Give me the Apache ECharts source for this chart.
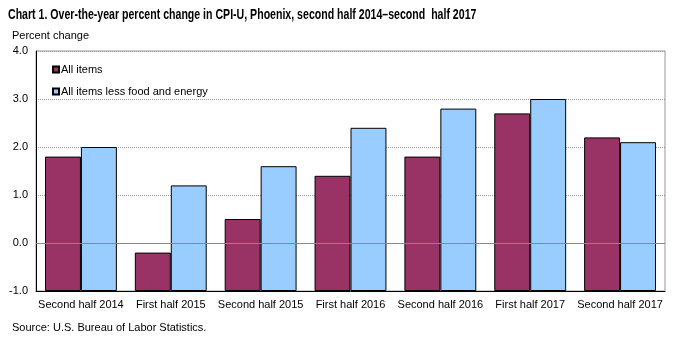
<!DOCTYPE html>
<html><head><meta charset="utf-8">
<script src="https://cdn.jsdelivr.net/npm/echarts@6/dist/echarts.min.js"></script>
<style>html,body{margin:0;padding:0;background:#fff}#c{width:677px;height:337px}</style>
</head><body><div id="c"></div>
<script>
const categories = ["Second half 2014","First half 2015","Second half 2015","First half 2016","Second half 2016","First half 2017","Second half 2017"];
const allItems = [1.8, -0.2, 0.5, 1.4, 1.8, 2.7, 2.2];
const lessFoodEnergy = [2.0, 1.2, 1.6, 2.4, 2.8, 3.0, 2.1];
const seriesNames = ["All items", "All items less food and energy"];
const yMin = -1, yMax = 4;
const FONT = "Arial, 'Liberation Sans', sans-serif";

// Bars in the reference rise from the axis floor (yMin); stack them on an invisible base at yMin.
const baseVals = categories.map(() => yMin);
const lift = arr => arr.map(v => +(v - yMin).toFixed(4));

const chart = echarts.init(document.getElementById('c'));
chart.setOption({
  animation: false,
  textStyle: {fontFamily: FONT},
  graphic: [
    {type: 'text', left: 8, top: 7, scaleX: 0.705, originX: 0,
     style: {text: "Chart 1. Over-the-year percent change in CPI-U, Phoenix, second half 2014\u2013second  half 2017",
             font: "bold 15px Arial, 'Liberation Sans', sans-serif", fill: '#000'}}
  ],
  title: [
    {text: "Source: U.S. Bureau of Labor Statistics.", left: 12, top: 322, padding: 0,
     textStyle: {fontFamily: FONT, fontWeight: 'normal', fontSize: 11, color: '#000'}}
  ],
  legend: {
    orient: 'vertical', left: 52, top: 64, padding: 0, itemGap: 11, itemWidth: 6, itemHeight: 6,
    icon: 'rect', textStyle: {fontSize: 11, color: '#000', fontFamily: FONT, padding: [0,0,0,-3]},
    data: seriesNames
  },
  grid: {left: 36, right: 12, top: 51, bottom: 46, show: true, borderColor: '#999', borderWidth: 1},
  xAxis: {
    type: 'category', data: categories,
    axisLine: {lineStyle: {color: '#000', width: 1}, onZero: false},
    axisTick: {show: false},
    axisLabel: {color: '#000', fontSize: 11, margin: 8, interval: 0}
  },
  yAxis: {
    type: 'value', min: yMin, max: yMax, interval: 1,
    name: 'Percent change', nameLocation: 'end', nameGap: 10,
    nameTextStyle: {color: '#000', fontSize: 11, align: 'left', padding: [0,0,0,-24]},
    axisLine: {show: true, lineStyle: {color: '#000'}},
    axisTick: {show: false},
    axisLabel: {color: '#000', fontSize: 11, margin: 8, formatter: v => v.toFixed(1)},
    splitLine: {show: true, lineStyle: {color: '#999', type: 'dotted', width: 1}}
  },
  series: [
    {type: 'line', z: 1, data: [], markLine: {silent: true, symbol: 'none', label: {show: false},
      lineStyle: {color: '#888', type: 'solid', width: 1}, data: [{yAxis: 0}]}},
    {name: 'baseA', type: 'bar', stack: 'a', stackStrategy: 'all', data: baseVals, barGap: '0%', barCategoryGap: '20%',
     itemStyle: {color: 'rgba(0,0,0,0)', borderWidth: 0}, silent: true},
    {name: seriesNames[0], type: 'bar', stack: 'a', stackStrategy: 'all', data: lift(allItems),
     itemStyle: {color: '#993366', borderColor: '#000', borderWidth: 1}},
    {name: 'baseB', type: 'bar', stack: 'b', stackStrategy: 'all', data: baseVals,
     itemStyle: {color: 'rgba(0,0,0,0)', borderWidth: 0}, silent: true},
    {name: seriesNames[1], type: 'bar', stack: 'b', stackStrategy: 'all', data: lift(lessFoodEnergy),
     itemStyle: {color: '#99ccff', borderColor: '#000', borderWidth: 1}}
  ]
});
</script></body></html>
